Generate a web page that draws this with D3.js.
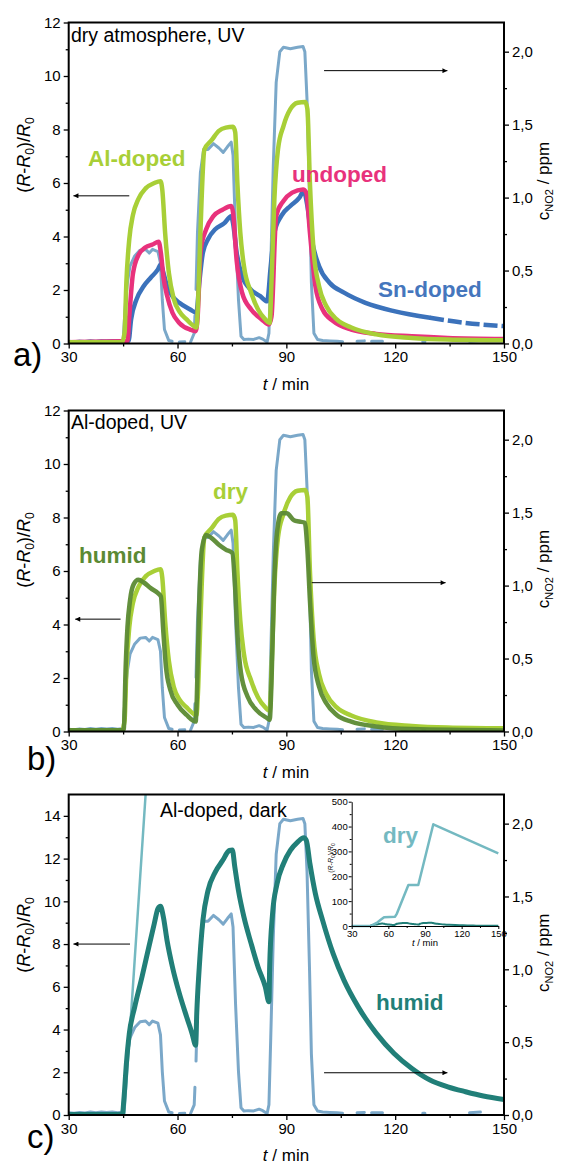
<!DOCTYPE html>
<html lang="en">
<head>
<meta charset="utf-8">
<title>NO2 sensor response</title>
<script src="https://d3js.org/d3.v7.min.js"></script>
<style>
  body { margin: 0; background: #fff; }
  svg text { font-family: "Liberation Sans", Arial, sans-serif; }
</style>
</head>
<body>
<script>

// ---------- data (t in min, response (R-R0)/R0, concentration in ppm) ----------
var timeTicks = [30, 60, 90, 120, 150];
var timeMinor = [45, 75, 105, 135];
var leftTicks12 = [0, 2, 4, 6, 8, 10, 12];
var leftMinor12 = [1, 3, 5, 7, 9, 11];
var leftTicks15 = [0, 2, 4, 6, 8, 10, 12, 14];
var leftMinor15 = [1, 3, 5, 7, 9, 11, 13];
var rightTicks = [0, 0.5, 1, 1.5, 2];
var rightMinor = [0.25, 0.75, 1.25, 1.75];
var insetTicksY = [0, 100, 200, 300, 400, 500];
var insetMinorY = [50, 150, 250, 350, 450];

// NO2 concentration pulses (null = gap in the recorded trace)
var conc = [
  [30,0.015],[31.5,0.012],[33,0.018],[34.5,0.014],[36,0.02],[37.5,0.016],[39,0.02],[40.5,0.017],[42,0.021],[43.5,0.016],[45,0.02],
  [45.7,0.30],[46.2,0.42],[46.9,0.53],[48.2,0.60],[49.7,0.64],[51.2,0.645],[52.2,0.62],[53.1,0.645],[54.6,0.63],[55.3,0.55],[55.8,0.30],[56.4,0.096],[57.6,0.02],[58.5,0.015],[59,null],
  [60.5,0.01],[62,0.012],[62.5,null],[63.6,0.01],[64.6,0.07],[64.8,0.19],[64.9,null],
  [65.1,0.37],[65.5,0.76],[66.3,1.17],[67.2,1.33],[68.4,1.33],[69.9,1.37],[71.4,1.34],[72.6,1.31],[73.8,1.35],[74.8,1.38],[75.3,1.29],[76.0,0.76],[76.8,0.30],[77.5,0.05],[78.3,0.027],
  [79.5,0.03],[81,0.028],[82.5,0.04],[83.5,0.03],[84.7,0.01],
  [85.2,0.07],[85.7,0.53],[86.4,1.22],[87.2,1.79],[88.2,2.0],[89.2,2.03],[91.1,2.02],[93.1,2.03],[94.6,2.035],[95.1,2.0],[95.7,1.67],[96.4,0.99],[96.9,0.42],[97.6,0.07],[98.6,0.027],
  [100,0.02],[102,0.018],[104,0.015],[105.5,0.012],[106,null],[109.5,0.015],[111.5,0.018],[112,null],[113.5,0.015],[116.5,0.015],[117,null],
  [127.6,0.012],[128.2,0.012],[128.6,null],[140.5,0.015],[143.5,0.02]
];

// panel a: dry atmosphere, UV
var alDoped = [
  [30,0.05],[44.7,0.05],[45.4,0.4],[45.9,2.3],[46.7,3.9],[47.7,4.8],[49.2,5.4],[51.2,5.8],[53.6,6.0],[55.3,6.07],[55.8,5.75],[56.6,4.1],[57.6,2.65],[59.0,1.65],[60.5,1.2],[62.5,0.9],[64.5,0.65],[65.2,0.6],
  [65.7,1.65],[66.3,4.1],[67.4,7.25],[69.4,7.6],[71.4,7.95],[73.3,8.07],[75.3,8.1],[75.9,7.9],[76.5,6.0],[77.3,4.15],[78.3,2.9],[80.3,1.9],[82.2,1.27],[84.2,0.9],[85.4,0.77],
  [85.9,2.27],[86.7,5.4],[87.7,7.26],[89.2,8.13],[91.1,8.76],[93.1,9.0],[95.2,9.03],[95.8,8.76],[96.5,6.0],[97.5,3.5],[99.0,2.15],[101.0,1.4],[103.9,0.9],[107.9,0.6],[114.8,0.34],[124.6,0.21],[134.5,0.15],[150,0.12]
];
var undoped = [
  [30,0.05],[46.2,0.09],[46.7,1.0],[47.7,2.6],[49.2,3.3],[51.2,3.6],[53.1,3.7],[54.8,3.8],[55.4,3.4],[56.1,2.5],[57.1,1.8],[58.6,1.15],[60.5,0.77],[63.5,0.52],[65.0,0.46],
  [65.5,0.9],[66.4,3.5],[67.9,4.27],[69.9,4.76],[72.4,5.0],[74.8,5.14],[75.3,4.9],[76.3,3.1],[77.8,1.9],[80.3,1.27],[83.2,0.9],[85.2,0.71],
  [85.9,1.0],[87.2,4.77],[89.2,5.33],[91.6,5.64],[94.6,5.76],[95.5,5.64],[96.5,4.14],[98.0,2.15],[100.0,1.27],[102.9,0.84],[107.9,0.52],[114.8,0.36],[124.6,0.27],[134.5,0.21],[150,0.17]
];
var snDoped = [
  [30,0.03],[46.5,0.09],[47.2,0.9],[48.7,1.65],[50.7,2.15],[52.6,2.46],[54.6,2.77],[55.4,2.96],[56.1,2.65],[57.1,2.15],[58.6,1.77],[60.5,1.52],[63.5,1.27],[65.2,1.15],
  [66.0,2.27],[67.0,3.4],[68.4,3.9],[70.4,4.27],[72.9,4.5],[74.8,4.76],[75.3,4.5],[76.3,3.4],[77.8,2.52],[80.3,2.0],[82.8,1.77],[84.7,1.58],
  [85.7,2.9],[86.7,4.14],[88.6,4.77],[91.1,5.14],[93.6,5.45],[94.8,5.7],[95.8,5.14],[97.0,3.9],[99.0,2.9],[101.9,2.27],[105.9,1.9],[111.8,1.52],[119.7,1.21],[129.6,0.96],[139.4,0.77],[150,0.65]
];

// panel b: Al-doped, UV, humid (dry curve is the Al-doped trace of panel a)
var humidUV = [
  [30,0.05],[44.9,0.05],[45.2,0.1],[45.7,2.4],[46.2,3.9],[46.9,4.9],[47.9,5.5],[49.2,5.67],[50.7,5.57],[52.6,5.36],[54.6,5.17],[55.4,5.05],[56.1,3.7],[56.8,2.43],[58.0,1.56],[60.0,1.0],[62.5,0.62],[65.0,0.37],
  [65.3,1.18],[66.0,4.9],[66.7,6.8],[67.9,7.35],[69.4,7.23],[71.4,6.98],[73.3,6.8],[75.1,6.67],[75.8,5.55],[76.5,3.68],[77.5,2.18],[79.3,1.31],[81.7,0.81],[84.7,0.5],[85.4,0.44],
  [85.9,1.8],[86.5,4.9],[87.4,7.4],[88.6,8.16],[90.1,8.16],[92.1,7.9],[93.6,7.85],[95.1,7.8],[95.8,6.8],[96.5,4.9],[97.5,2.8],[99.0,1.68],[101.0,1.06],[103.9,0.62],[107.9,0.37],[114.8,0.19],[124.6,0.09],[150,0.04]
];

// panel c: Al-doped, dark
var humidDark = [
  [30,0.02],[44.8,0.02],[45.2,0.7],[45.9,2.4],[46.7,3.8],[48.2,5.06],[50.2,6.46],[52.1,7.87],[53.6,8.96],[54.6,9.66],[55.3,9.77],[56.1,9.27],[57.1,8.18],[58.6,6.93],[60.5,5.69],[62.5,4.6],[64.0,3.82],[65.0,3.27],
  [65.3,4.75],[66.0,6.93],[67.0,9.11],[68.4,10.5],[70.4,11.37],[72.4,11.9],[74.3,12.38],[75.1,12.4],[75.8,11.6],[76.8,10.5],[78.3,9.27],[80.3,8.02],[82.2,6.93],[84.2,6.0],[85.2,5.3],
  [85.4,6.93],[86.2,9.42],[87.4,10.8],[89.2,11.76],[91.1,12.38],[93.1,12.77],[94.8,12.97],[95.5,12.85],[96.5,11.76],[98.0,10.36],[100.0,9.11],[102.9,7.55],[105.9,6.3],[109.8,5.06],[114.8,3.82],[119.7,2.88],[124.6,2.18],[129.6,1.64],[134.5,1.32],[139.4,1.09],[144.3,0.89],[150,0.73]
];
var dryDark = [
  [30,0],[45.3,0],[47.7,6],[51.2,15],[54,26],[56.5,35],[65.5,37.5],[67,50],[76.4,165],[84.5,165],[96.8,409],[150,292]
];

// ---------- layout ----------
var w = 561, h = 1168;
var plotLeft = 68.7, plotRight = 504;
var font = "'Liberation Sans', Arial, sans-serif";

var svg = d3.select("body").append("svg")
  .attr("width", w)
  .attr("height", h);

var defs = svg.append("defs");
defs.append("marker")
  .attr("id", "arrow")
  .attr("viewBox", "0 0 10 10")
  .attr("refX", 10).attr("refY", 5)
  .attr("markerWidth", 7).attr("markerHeight", 5)
  .attr("markerUnits", "userSpaceOnUse")
  .attr("orient", "auto")
  .append("path")
  .attr("d", "M0,0L10,5L0,10Z")
  .attr("fill", "#000");

var lineGen = function(x, y, curve) {
  return d3.line()
    .defined(function(d) { return d[1] !== null; })
    .x(function(d) { return x(d[0]); })
    .y(function(d) { return y(d[1]); })
    .curve(curve || d3.curveLinear);
};

// axis helper: major + minor ticks, no domain line
var addAxis = function(g, axisFn, scale, major, minor, fmt, tx, ty, size) {
  var a = g.append("g")
    .attr("transform", "translate(" + tx + "," + ty + ")")
    .call(axisFn(scale).tickValues(major).tickSize(size || 5).tickPadding(3).tickFormat(fmt));
  a.select(".domain").remove();
  a.attr("font-size", 15).attr("font-family", font);
  a.selectAll("line").attr("stroke-width", 1.3);
  var m = g.append("g")
    .attr("transform", "translate(" + tx + "," + ty + ")")
    .call(axisFn(scale).tickValues(minor).tickSize(size ? size * 0.6 : 3).tickFormat(""));
  m.select(".domain").remove();
  m.selectAll("line").attr("stroke-width", 1.3);
  return a;
};

var commaFmt = function(d) { return d3.format(".1f")(d).replace(".", ","); };

var drawPanel = function(p) {
  var g = svg.append("g");
  var x = d3.scaleLinear().domain([30, 150]).range([plotLeft, plotRight]);
  var y = d3.scaleLinear().domain([0, p.yMax]).range([p.bottom, p.top]);
  var yR = d3.scaleLinear().domain([0, 2.2]).range([p.bottom, p.top]);

  defs.append("clipPath").attr("id", "clip" + p.id)
    .append("rect")
    .attr("x", plotLeft).attr("y", p.top)
    .attr("width", plotRight - plotLeft).attr("height", p.bottom - p.top);

  var plot = g.append("g").attr("clip-path", "url(#clip" + p.id + ")");

  // concentration trace on the right axis
  plot.append("path")
    .datum(conc)
    .attr("d", lineGen(x, yR))
    .attr("fill", "none")
    .attr("stroke", "#7ba8c9")
    .attr("stroke-width", 3)
    .attr("stroke-linejoin", "round")
    .attr("stroke-linecap", "round");

  p.series.forEach(function(s) {
    plot.append("path")
      .datum(s.data)
      .attr("d", lineGen(x, y, s.linear ? d3.curveLinear : d3.curveMonotoneX))
      .attr("fill", "none")
      .attr("stroke", s.color)
      .attr("stroke-width", s.width || 4.5)
      .attr("stroke-dasharray", s.dash || null)
      .attr("opacity", s.opacity || 1)
      .attr("stroke-linejoin", "round")
      .attr("stroke-linecap", s.dash ? "butt" : "round");
  });

  // frame
  g.append("rect")
    .attr("x", plotLeft).attr("y", p.top)
    .attr("width", plotRight - plotLeft).attr("height", p.bottom - p.top)
    .attr("fill", "none")
    .attr("stroke", "#000")
    .attr("stroke-width", 2);

  addAxis(g, d3.axisBottom, x, timeTicks, timeMinor, d3.format("d"), 0, p.bottom);
  addAxis(g, d3.axisLeft, y, p.ticks, p.minor, d3.format("d"), plotLeft, 0);
  addAxis(g, d3.axisRight, yR, rightTicks, rightMinor, commaFmt, plotRight, 0);

  // axis titles
  var xt = g.append("text")
    .attr("x", 286).attr("y", p.bottom + 46)
    .attr("text-anchor", "middle")
    .attr("font-size", 17);
  xt.append("tspan").attr("font-style", "italic").text("t");
  xt.append("tspan").text(" / min");

  var yt = g.append("text")
    .attr("transform", "translate(30," + p.yTitle + ") rotate(-90)")
    .attr("text-anchor", "middle")
    .attr("font-size", 18);
  yt.append("tspan").text("(");
  yt.append("tspan").attr("font-style", "italic").text("R");
  yt.append("tspan").text("-");
  yt.append("tspan").attr("font-style", "italic").text("R");
  yt.append("tspan").attr("font-size", 12).attr("dy", 4).text("0");
  yt.append("tspan").attr("dy", -4).text(")/");
  yt.append("tspan").attr("font-style", "italic").text("R");
  yt.append("tspan").attr("font-size", 12).attr("dy", 4).text("0");

  var rt = g.append("text")
    .attr("transform", "translate(549," + ((p.top + p.bottom) / 2 - 2) + ") rotate(-90)")
    .attr("text-anchor", "middle")
    .attr("font-size", 17);
  rt.append("tspan").text("c");
  rt.append("tspan").attr("font-size", 11).attr("dy", 4).text("NO2");
  rt.append("tspan").attr("dy", -4).text("  / ppm");

  // panel letter
  g.append("text")
    .attr("x", p.letterX).attr("y", p.letterY)
    .attr("font-size", 33)
    .text(p.letter);

  // condition text
  g.append("text")
    .attr("x", p.condX).attr("y", p.condY)
    .attr("font-size", 19.5)
    .text(p.cond);

  // series labels
  p.labels.forEach(function(l) {
    g.append("text")
      .attr("x", l.x).attr("y", l.y)
      .attr("font-size", 22.5)
      .attr("font-weight", "bold")
      .attr("fill", l.color)
      .text(l.text);
  });

  // arrows pointing to the axis each group belongs to
  g.append("line")
    .attr("x1", x(p.arrowL[1])).attr("x2", x(p.arrowL[0]))
    .attr("y1", y(p.arrowL[2])).attr("y2", y(p.arrowL[2]))
    .attr("stroke", "#000").attr("stroke-width", 1)
    .attr("marker-end", "url(#arrow)");
  g.append("line")
    .attr("x1", x(p.arrowR[0])).attr("x2", x(p.arrowR[1]))
    .attr("y1", yR(p.arrowR[2])).attr("y2", yR(p.arrowR[2]))
    .attr("stroke", "#000").attr("stroke-width", 1)
    .attr("marker-end", "url(#arrow)");

  return g;
};

// ---------- panels ----------
drawPanel({
  id: "a", top: 22.5, bottom: 343.5, yMax: 12, ticks: leftTicks12, minor: leftMinor12, yTitle: 155,
  letter: "a)", letterX: 13, letterY: 366, cond: "dry atmosphere, UV", condX: 71, condY: 42,
  arrowL: [31.3, 46.7, 5.52], arrowR: [100.4, 134.4, 1.87],
  series: [
    {data: snDoped.filter(function(d) { return d[0] <= 129.6; }), color: "#3b72bb"},
    {data: snDoped.filter(function(d) { return d[0] >= 129.6; }), color: "#3b72bb", dash: "14,4"},
    {data: undoped, color: "#e8327c"},
    {data: alDoped, color: "#a8cf37"}
  ],
  labels: [
    {text: "Al-doped", x: 88, y: 166, color: "#a8cf37"},
    {text: "undoped", x: 292, y: 182, color: "#e8327c"},
    {text: "Sn-doped", x: 378, y: 297, color: "#4576bd"}
  ]
});

drawPanel({
  id: "b", top: 410.5, bottom: 731.5, yMax: 12, ticks: leftTicks12, minor: leftMinor12, yTitle: 550,
  letter: "b)", letterX: 27, letterY: 770, cond: "Al-doped, UV", condX: 71, condY: 429,
  arrowL: [31.8, 44.3, 4.2], arrowR: [97, 133.9, 1.02],
  series: [
    {data: alDoped, color: "#a8cf37"},
    {data: humidUV, color: "#5b8a33", opacity: 0.95}
  ],
  labels: [
    {text: "dry", x: 213, y: 499, color: "#a8cf37"},
    {text: "humid", x: 79, y: 563, color: "#5b8a33"}
  ]
});

drawPanel({
  id: "c", top: 794.5, bottom: 1115, yMax: 15, ticks: leftTicks15, minor: leftMinor15, yTitle: 935,
  letter: "c)", letterX: 27, letterY: 1148, cond: "Al-doped, dark", condX: 160, condY: 817,
  arrowL: [31.3, 46.9, 8], arrowR: [100.4, 134.4, 0.29],
  series: [
    {data: dryDark, color: "#74b9c1", width: 2.5, linear: true},
    {data: humidDark, color: "#217f78", width: 5}
  ],
  labels: [
    {text: "humid", x: 376, y: 1010, color: "#217f78"}
  ]
});

// ---------- inset of panel c (full dry response) ----------
var ix = d3.scaleLinear().domain([30, 150]).range([351.7, 498.3]);
var iy = d3.scaleLinear().domain([0, 500]).range([926, 801.7]);
var inset = svg.append("g");

inset.append("path")
  .datum(humidDark)
  .attr("d", lineGen(ix, iy, d3.curveMonotoneX))
  .attr("fill", "none")
  .attr("stroke", "#217f78")
  .attr("stroke-width", 2);
inset.append("path")
  .datum(dryDark)
  .attr("d", lineGen(ix, iy))
  .attr("fill", "none")
  .attr("stroke", "#74b9c1")
  .attr("stroke-width", 2.5)
  .attr("stroke-linejoin", "round");

var ia = inset.append("g").attr("transform", "translate(0,926)")
  .call(d3.axisBottom(ix).tickValues(timeTicks).tickSize(3).tickPadding(1).tickSizeOuter(0));
ia.attr("font-size", 9.5).attr("font-family", font);
inset.append("g").attr("transform", "translate(0,926)")
  .call(d3.axisBottom(ix).tickValues(timeMinor).tickSize(2).tickFormat("")).select(".domain").remove();
var ib = inset.append("g").attr("transform", "translate(351.7,0)")
  .call(d3.axisLeft(iy).tickValues(insetTicksY).tickSize(3).tickPadding(1).tickSizeOuter(0));
ib.attr("font-size", 9.5).attr("font-family", font);
inset.append("g").attr("transform", "translate(351.7,0)")
  .call(d3.axisLeft(iy).tickValues(insetMinorY).tickSize(2).tickFormat("")).select(".domain").remove();

var it = inset.append("text")
  .attr("x", 425).attr("y", 946)
  .attr("text-anchor", "middle")
  .attr("font-size", 9.5);
it.append("tspan").attr("font-style", "italic").text("t");
it.append("tspan").text(" / min");

var iyt = inset.append("text")
  .attr("transform", "translate(333,858) rotate(-90)")
  .attr("text-anchor", "middle")
  .attr("font-size", 7);
iyt.append("tspan").text("(");
iyt.append("tspan").attr("font-style", "italic").text("R");
iyt.append("tspan").text("-");
iyt.append("tspan").attr("font-style", "italic").text("R");
iyt.append("tspan").attr("font-size", 5).attr("dy", 2).text("0");
iyt.append("tspan").attr("dy", -2).text(")/");
iyt.append("tspan").attr("font-style", "italic").text("R");
iyt.append("tspan").attr("font-size", 5).attr("dy", 2).text("0");

inset.append("text")
  .attr("x", 383).attr("y", 843)
  .attr("font-size", 22.5)
  .attr("font-weight", "bold")
  .attr("fill", "#74b9c1")
  .text("dry");

</script>
</body>
</html>
